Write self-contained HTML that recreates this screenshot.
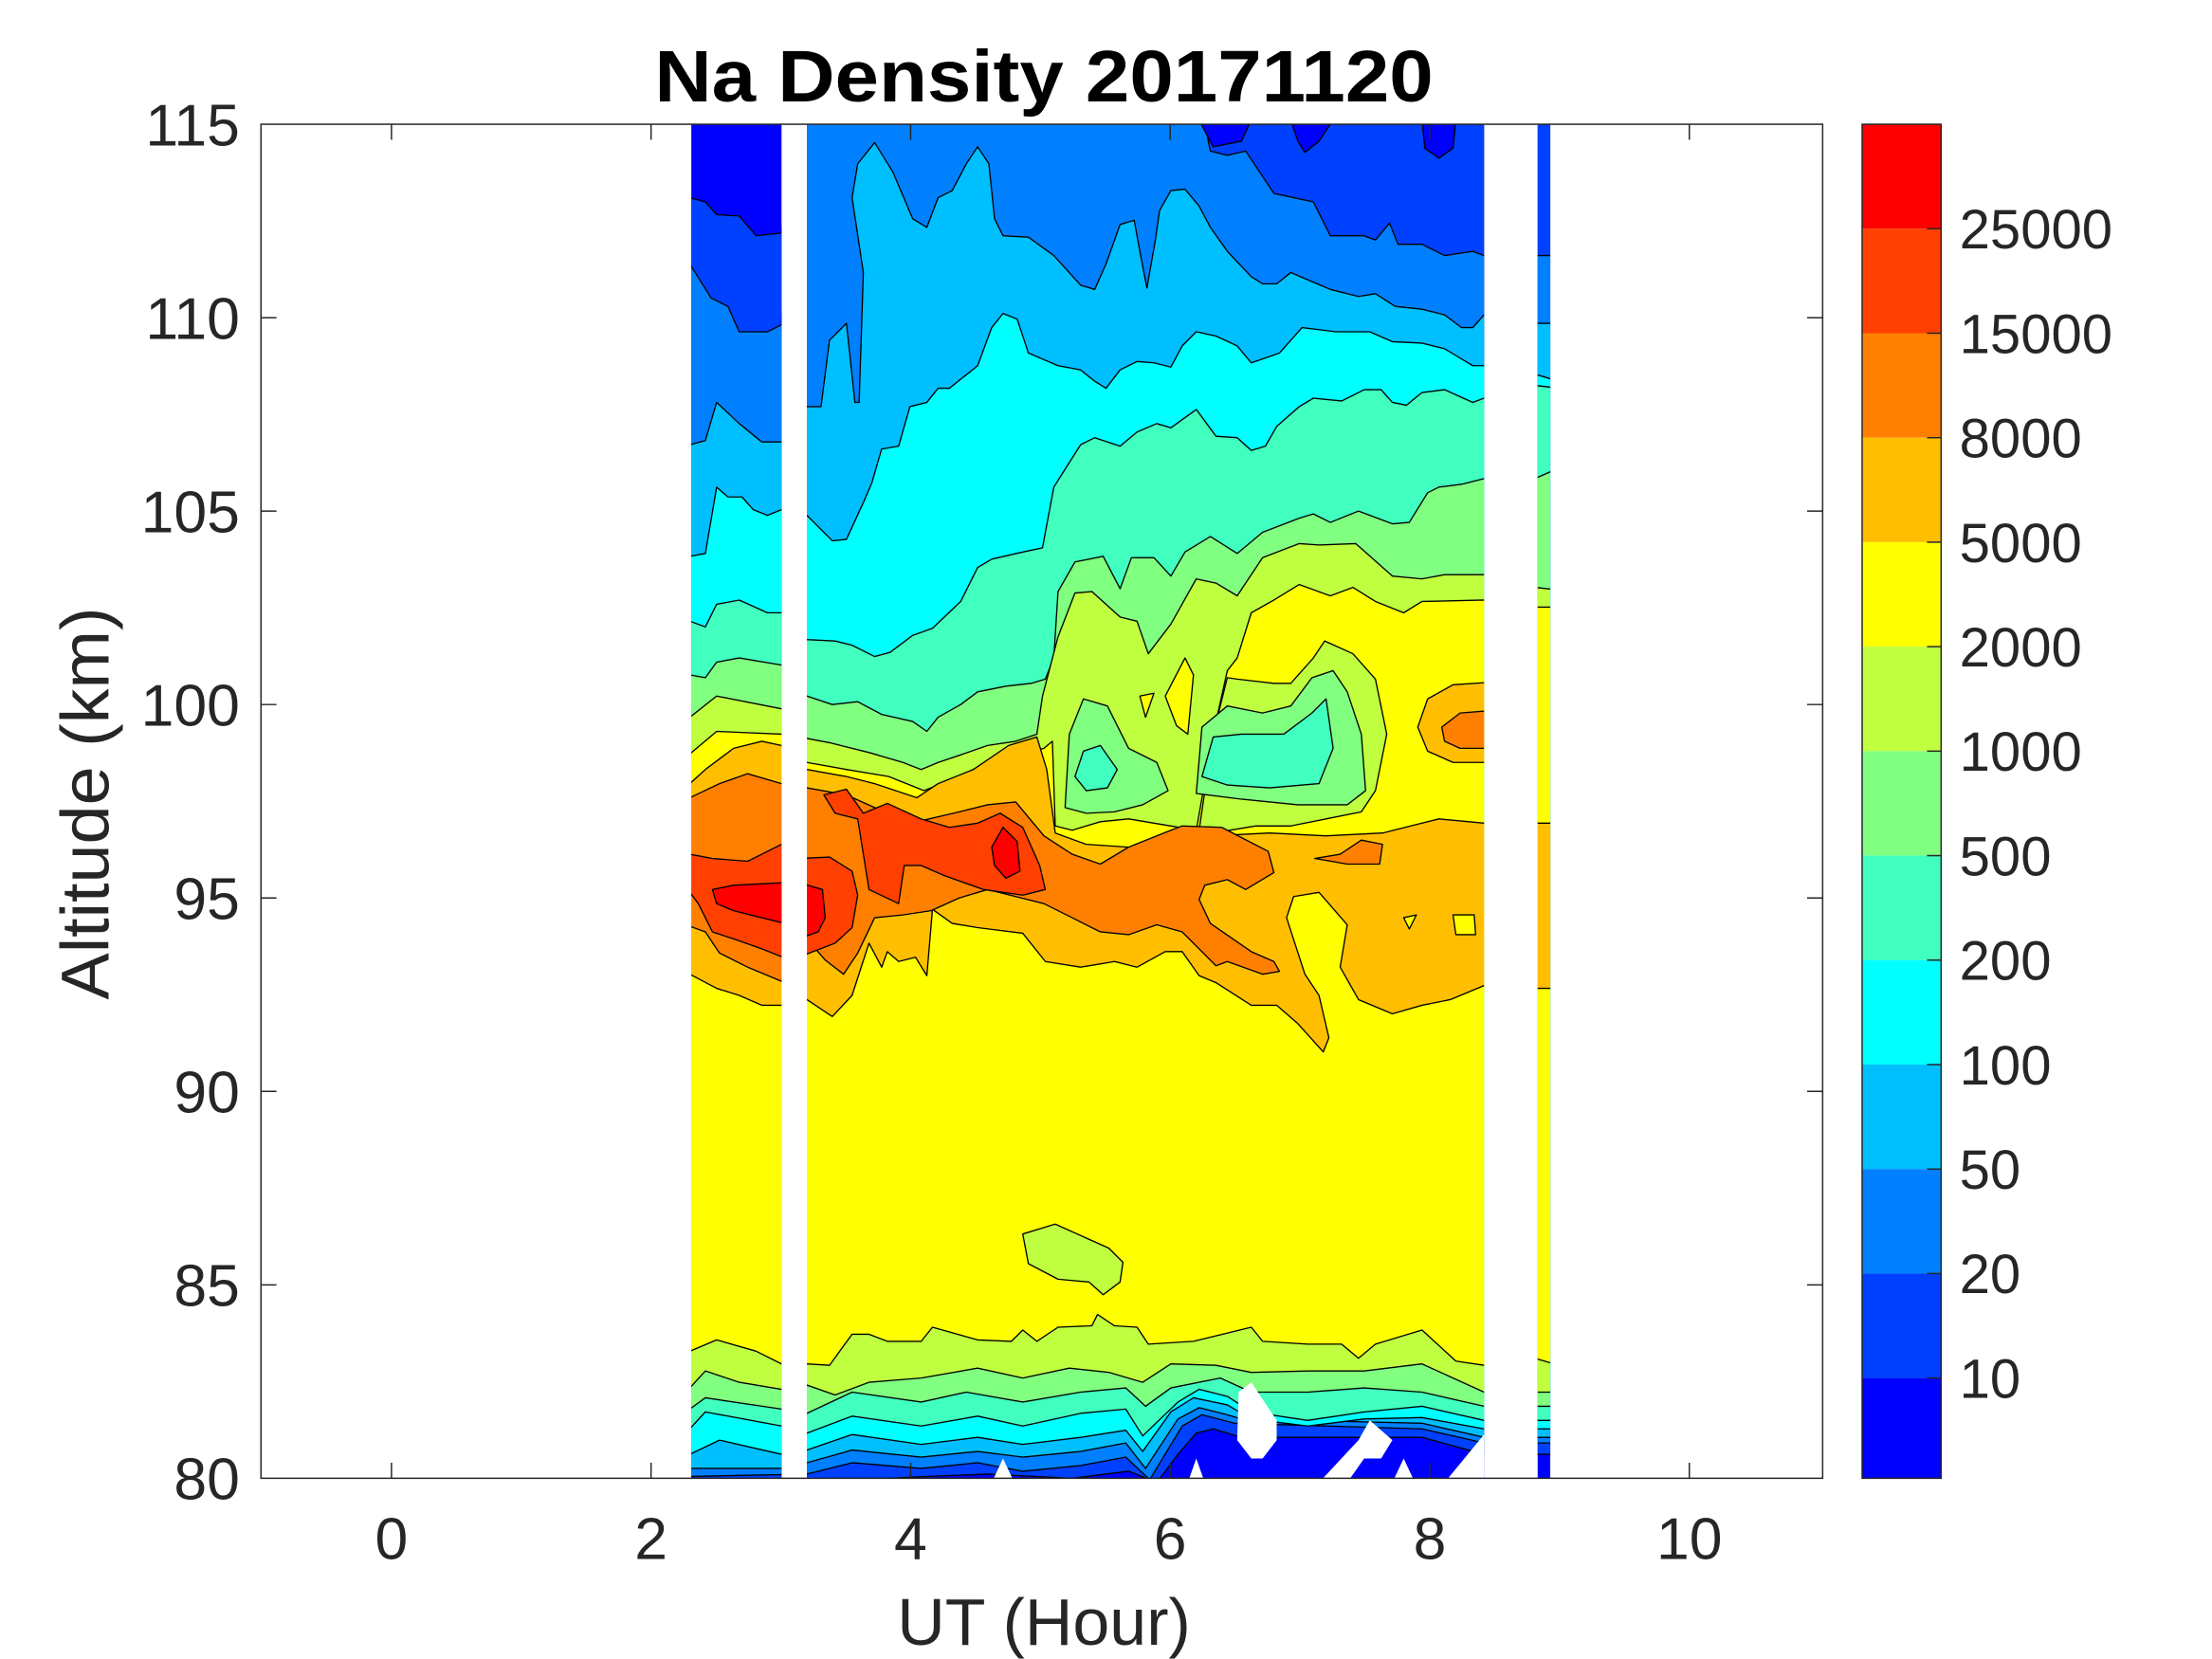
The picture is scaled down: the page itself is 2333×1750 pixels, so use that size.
<!DOCTYPE html>
<html><head><meta charset="utf-8"><style>html,body{margin:0;padding:0;background:#fff}svg{display:block}</style></head>
<body>
<svg width="2333" height="1750" viewBox="0 0 1568 1175" preserveAspectRatio="none" xmlns="http://www.w3.org/2000/svg" font-family="'Liberation Sans', Arial, sans-serif">
<defs>
<clipPath id="dc">
<rect x="490" y="88" width="64" height="959"/>
<rect x="572" y="88" width="480" height="959"/>
<rect x="1090" y="88" width="9" height="959"/>
</clipPath>
</defs>
<rect width="1568" height="1175" fill="#fff"/>
<g clip-path="url(#dc)" stroke="#000" stroke-width="0.9" stroke-linejoin="round">
<rect x="470" y="80" width="660" height="980" fill="#0000ff" stroke="none"/>
<polygon fill="#0040ff" points="475,140 489,140 500,143 508,152 524,153 536,167 554,165 562,70 1115,70 1115,1030 1052,1030 1008,1018 900,1018 880,1018 860,1012 848,1015 835,1030 820,1050 800,1042 760,1047 700,1044 650,1046 572,1050 475,1052"/>
<polygon fill="#0080ff" points="475,187 489,187 504,211 516,217 524,235 544,235 554,230 562,70 850,70 858,107 870,110 883,107 903,137 931,143 943,167 967,167 975,170 985,158 991,173 1008,173 1024,181 1044,178 1052,181 1115,181 1115,1022 1052,1022 1008,1012 875,1008 852,1002 838,1010 815,1048 798,1032 766,1038 725,1042 693,1036 653,1040 604,1036 572,1044 475,1046"/>
<polygon fill="#00bfff" points="475,315 489,315 500,312 508,285 524,300 540,313 554,313 562,300 572,288 582,288 588,241 600,229 606,285 609,285 612,193 604,140 608,116 620,101 633,122 647,155 657,161 665,140 675,135 685,116 693,104 701,116 705,155 711,167 729,168 747,181 766,202 776,205 784,187 794,159 804,156 808,178 813,204 819,170 822,149 830,135 840,134 850,146 858,161 870,178 887,196 895,201 905,201 915,193 943,205 963,210 975,208 989,217 1008,219 1024,223 1036,232 1044,232 1052,223 1088,229 1115,229 1115,1018 1052,1018 1008,1008 880,1005 870,1002 850,997 835,1005 812,1040 798,1022 766,1028 725,1032 693,1028 653,1032 604,1027 572,1036 554,1040 489,1040 475,1040"/>
<polygon fill="#00ffff" points="475,394 489,394 500,392 508,345 516,352 526,352 534,361 544,365 554,361 572,365 590,383 600,382 612,356 618,342 625,318 637,316 645,288 657,285 665,275 673,275 693,259 703,232 711,222 721,226 729,250 750,259 766,262 776,270 784,275 794,262 806,256 818,257 830,260 838,245 848,235 862,238 877,245 887,257 907,250 923,232 947,235 971,235 987,242 1008,243 1024,247 1044,259 1052,259 1088,265 1115,273 1115,1012 1052,1012 1008,1004 967,1005 927,1010 887,1005 870,995 846,990 830,1000 810,1028 798,1013 766,1018 725,1023 693,1018 653,1023 604,1016 572,1027 554,1030 510,1020 489,1030 475,1030"/>
<polygon fill="#40ffbf" points="475,440 489,440 500,444 508,428 524,425 544,434 554,434 572,453 592,454 604,457 620,465 631,462 647,450 661,445 681,426 693,402 703,396 725,391 739,388 747,345 766,315 776,310 794,316 806,306 820,300 830,303 848,290 862,309 877,310 887,319 897,316 905,302 921,288 931,282 951,284 967,276 979,276 987,285 997,287 1008,278 1024,276 1044,285 1052,282 1088,273 1115,276 1115,1006 1052,1006 1008,996 967,1000 927,1006 887,1000 870,989 850,984 835,993 810,1017 798,998 766,1001 725,1010 693,1003 653,1010 604,1003 572,1015 554,1010 500,1000 489,1012 475,1012"/>
<polygon fill="#80ff80" points="475,478 489,478 500,480 508,469 524,466 554,471 572,493 590,499 608,497 625,506 647,511 657,518 665,508 681,499 693,490 713,486 731,484 741,481 747,466 750,419 762,398 782,394 794,417 802,395 818,395 830,408 840,391 858,380 877,392 895,377 921,367 931,364 943,370 963,362 987,371 999,370 1012,349 1020,345 1036,343 1052,339 1088,339 1115,327 1115,996 1052,996 1008,986 967,983 927,986 887,986 865,976 830,983 812,996 798,983 766,986 725,993 685,986 653,993 604,986 572,1001 554,998 500,990 489,998 475,998"/>
<polygon fill="#bfff40" points="475,508 489,508 508,493 554,502 562,515 572,523 588,526 616,533 640,540 653,545 665,540 680,535 700,528 720,525 735,520 739,493 750,451 762,420 774,419 794,437 806,440 814,463 830,442 848,410 862,413 877,422 895,395 921,385 935,386 961,385 987,408 1008,410 1024,407 1052,407 1088,416 1115,419 1115,986 1052,986 1008,966 967,971 927,971 887,972 862,967 830,966 810,979 786,972 758,969 725,976 693,969 653,976 616,979 592,988 572,981 554,984 524,979 500,971 489,983 475,983"/>
<polygon fill="#ffff00" points="475,534 489,534 508,518 554,520 562,530 572,540 600,545 630,550 655,560 680,550 700,540 720,535 740,530 746,525 748,585 760,588 780,582 800,580 830,585 848,588 860,520 870,475 877,466 887,434 903,425 921,414 943,422 959,416 975,426 995,434 1008,426 1052,425 1088,430 1115,430 1115,970 1088,962 1052,967 1032,964 1008,942 975,952 963,962 951,952 927,952 895,950 887,940 846,950 814,952 806,940 790,939 778,931 774,939 750,940 735,950 725,942 717,950 693,949 661,940 653,950 629,950 616,945 604,945 588,967 572,966 554,966 536,957 508,949 489,957 475,957"/>
<polygon fill="#bfff40" points="850,588 860,520 870,480 877,481 903,484 915,484 931,466 939,454 959,463 975,481 983,520 975,560 965,575 940,580 915,585 890,585 860,590"/>
<polygon fill="#80ff80" points="755,572 758,520 768,495 785,500 800,530 820,540 828,560 810,570 790,575 770,576"/>
<polygon fill="#40ffbf" points="762,550 768,532 780,528 792,545 785,558 770,560"/>
<polygon fill="#80ff80" points="848,562 852,515 870,500 895,505 915,500 930,480 945,475 955,490 965,520 968,560 955,570 920,570 880,566"/>
<polygon fill="#40ffbf" points="852,550 860,522 880,520 910,520 930,505 940,495 945,530 935,555 900,558 870,556"/>
<polygon fill="#ffff00" points="808,493 818,491 812,508"/>
<polygon fill="#ffff00" points="826,493 840,466 846,478 842,520 834,514"/>
<polygon fill="#ffbf00" points="475,555 489,555 500,545 520,530 540,525 554,528 562,540 572,545 600,550 620,555 650,565 665,555 690,545 715,528 735,522 742,545 748,590 770,598 800,600 830,600 860,592 900,590 940,592 980,590 1000,585 1020,580 1052,583 1088,583 1115,583 1115,700 1088,700 1052,698 1028,708 1008,712 987,718 963,708 950,685 955,655 935,632 917,635 912,650 925,690 935,705 942,735 938,745 920,725 905,712 887,712 862,696 850,691 838,674 826,674 806,685 790,681 766,685 741,681 725,661 693,657 675,654 661,644 657,691 649,678 637,681 629,674 625,685 616,668 604,705 590,720 572,708 562,712 554,712 540,712 524,705 508,700 489,690 475,690"/>
<polygon fill="#ffbf00" points="1005,515 1012,495 1030,485 1060,483 1060,540 1030,540 1012,532"/>
<polygon fill="#ff8000" points="1022,515 1035,505 1060,503 1060,530 1035,530 1024,525"/>
<polygon fill="#ff8000" points="475,565 489,565 510,555 530,548 554,555 572,558 600,563 620,572 650,582 680,575 700,570 720,568 740,592 760,605 780,612 800,600 830,588 838,585 866,586 899,603 903,618 883,630 870,623 854,627 850,637 858,654 887,674 903,681 907,688 895,690 870,681 862,684 838,660 820,655 800,662 780,660 760,650 740,640 720,635 700,630 680,636 660,645 640,648 620,650 608,675 598,690 585,680 572,665 562,662 554,695 530,685 510,675 500,660 489,656 475,656"/>
<polygon fill="#ff8000" points="932,608 950,605 965,595 980,598 978,612 955,612"/>
<polygon fill="#ffff00" points="995,650 1004,648 999,658"/>
<polygon fill="#ffff00" points="1030,648 1045,648 1046,662 1032,662"/>
<polygon fill="#ff4000" points="475,605 489,605 505,608 530,610 560,595 560,680 540,672 520,665 505,660 495,640 489,632 475,632"/>
<polygon fill="#ff4000" points="566,608 588,607 604,617 608,634 604,657 592,668 566,678"/>
<polygon fill="#ff4000" points="584,563 600,559 612,576 629,569 653,580 673,586 693,583 709,576 725,586 737,613 741,630 725,634 697,630 669,620 653,613 641,613 637,640 616,630 608,580 592,576"/>
<polygon fill="#ff0000" points="505,630 520,627 560,625 560,655 540,650 520,645 508,640"/>
<polygon fill="#ff0000" points="566,625 583,630 585,650 580,660 566,665"/>
<polygon fill="#ff0000" points="703,600 711,586 721,596 723,617 713,622 705,613"/>
<polygon fill="#bfff40" points="725,874 748,867 786,884 796,894 794,908 782,917 772,908 750,906 729,895"/>
<polygon fill="#0000ff" points="850,85 860,104 880,100 887,85"/>
<polygon fill="#0000ff" points="915,85 920,100 925,108 935,100 945,85"/>
<polygon fill="#0000ff" points="1008,85 1010,105 1020,112 1030,105 1032,85"/>
<g fill="#fff" stroke="none">
<polygon points="878,986 887,979 905,1006 905,1020 895,1033 887,1033 877,1020"/>
<polygon points="935,1050 963,1020 971,1006 987,1020 979,1033 967,1033 955,1050"/>
<polygon points="703,1050 711,1033 719,1050"/>
<polygon points="842,1050 848,1033 854,1050"/>
<polygon points="987,1050 995,1033 1003,1050"/>
<polygon points="1024,1050 1052,1016 1060,1016 1060,1050"/>
</g>
</g>
<rect x="185" y="88" width="1107" height="959" fill="none" stroke="#262626" stroke-width="1"/>
<g stroke="#262626" stroke-width="1">
<line x1="277.5" y1="1047" x2="277.5" y2="1036"/><line x1="277.5" y1="88" x2="277.5" y2="99"/>
<line x1="461.5" y1="1047" x2="461.5" y2="1036"/><line x1="461.5" y1="88" x2="461.5" y2="99"/>
<line x1="645.5" y1="1047" x2="645.5" y2="1036"/><line x1="645.5" y1="88" x2="645.5" y2="99"/>
<line x1="829.5" y1="1047" x2="829.5" y2="1036"/><line x1="829.5" y1="88" x2="829.5" y2="99"/>
<line x1="1013.5" y1="1047" x2="1013.5" y2="1036"/><line x1="1013.5" y1="88" x2="1013.5" y2="99"/>
<line x1="1197.5" y1="1047" x2="1197.5" y2="1036"/><line x1="1197.5" y1="88" x2="1197.5" y2="99"/>
<line x1="185" y1="910" x2="196" y2="910"/><line x1="1292" y1="910" x2="1281" y2="910"/>
<line x1="185" y1="773" x2="196" y2="773"/><line x1="1292" y1="773" x2="1281" y2="773"/>
<line x1="185" y1="636" x2="196" y2="636"/><line x1="1292" y1="636" x2="1281" y2="636"/>
<line x1="185" y1="499" x2="196" y2="499"/><line x1="1292" y1="499" x2="1281" y2="499"/>
<line x1="185" y1="362" x2="196" y2="362"/><line x1="1292" y1="362" x2="1281" y2="362"/>
<line x1="185" y1="225" x2="196" y2="225"/><line x1="1292" y1="225" x2="1281" y2="225"/>
</g>
<g fill="#262626" font-size="42" text-anchor="middle">
<text x="277.5" y="1104">0</text><text x="461.5" y="1104">2</text><text x="645.5" y="1104">4</text>
<text x="829.5" y="1104">6</text><text x="1013.5" y="1104">8</text><text x="1197.5" y="1104">10</text>
</g>
<g fill="#262626" font-size="42" text-anchor="end">
<text x="170" y="1062">80</text><text x="170" y="925">85</text><text x="170" y="788">90</text>
<text x="170" y="651">95</text><text x="170" y="514">100</text><text x="170" y="377">105</text>
<text x="170" y="240">110</text><text x="170" y="103">115</text>
</g>
<text x="740" y="72" font-size="52" font-weight="bold" text-anchor="middle" fill="#000" textLength="552" lengthAdjust="spacingAndGlyphs">Na Density 20171120</text>
<text x="740" y="1165" font-size="47" text-anchor="middle" fill="#262626">UT (Hour)</text>
<text transform="translate(77,569) rotate(-90)" font-size="48" text-anchor="middle" fill="#262626" textLength="278" lengthAdjust="spacingAndGlyphs">Altitude (km)</text>
<g>
<rect x="1320" y="88" width="56" height="74" fill="#ff0000"/>
<rect x="1320" y="162" width="56" height="74" fill="#ff4000"/>
<rect x="1320" y="236" width="56" height="74" fill="#ff8000"/>
<rect x="1320" y="310" width="56" height="74" fill="#ffbf00"/>
<rect x="1320" y="384" width="56" height="74" fill="#ffff00"/>
<rect x="1320" y="458" width="56" height="74" fill="#bfff40"/>
<rect x="1320" y="532" width="56" height="74" fill="#80ff80"/>
<rect x="1320" y="606" width="56" height="74" fill="#40ffbf"/>
<rect x="1320" y="680" width="56" height="74" fill="#00ffff"/>
<rect x="1320" y="754" width="56" height="74" fill="#00bfff"/>
<rect x="1320" y="828" width="56" height="74" fill="#0080ff"/>
<rect x="1320" y="902" width="56" height="74" fill="#0040ff"/>
<rect x="1320" y="976" width="56" height="71" fill="#0000ff"/>
<rect x="1320" y="88" width="56" height="959" fill="none" stroke="#262626" stroke-width="1"/>
<g stroke="#262626" stroke-width="1">
<line x1="1366" y1="162" x2="1376" y2="162"/><line x1="1366" y1="236" x2="1376" y2="236"/>
<line x1="1366" y1="310" x2="1376" y2="310"/><line x1="1366" y1="384" x2="1376" y2="384"/>
<line x1="1366" y1="458" x2="1376" y2="458"/><line x1="1366" y1="532" x2="1376" y2="532"/>
<line x1="1366" y1="606" x2="1376" y2="606"/><line x1="1366" y1="680" x2="1376" y2="680"/>
<line x1="1366" y1="754" x2="1376" y2="754"/><line x1="1366" y1="828" x2="1376" y2="828"/>
<line x1="1366" y1="902" x2="1376" y2="902"/><line x1="1366" y1="976" x2="1376" y2="976"/>
</g>
<g fill="#262626" font-size="39">
<text x="1389" y="176">25000</text><text x="1389" y="250">15000</text><text x="1389" y="324">8000</text>
<text x="1389" y="398">5000</text><text x="1389" y="472">2000</text><text x="1389" y="546">1000</text>
<text x="1389" y="620">500</text><text x="1389" y="694">200</text><text x="1389" y="768">100</text>
<text x="1389" y="842">50</text><text x="1389" y="916">20</text><text x="1389" y="990">10</text>
</g>
</g>
</svg>
</body></html>
